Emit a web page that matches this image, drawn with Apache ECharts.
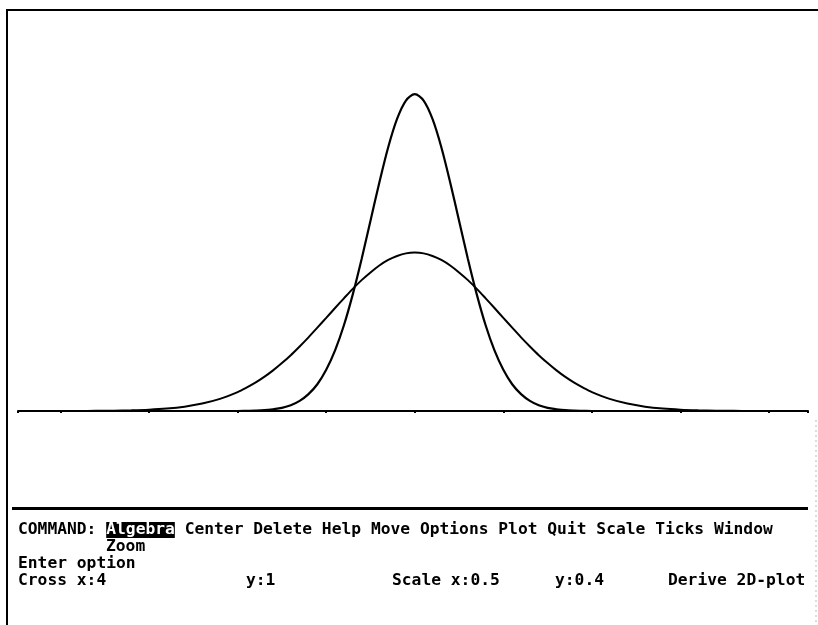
<!DOCTYPE html>
<html>
<head>
<meta charset="utf-8">
<script src="https://cdn.jsdelivr.net/npm/echarts@6/dist/echarts.min.js"></script>
<style>
html,body{margin:0;padding:0;background:#fff;}
#chart{width:818px;height:625px;}
</style>
</head>
<body>
<div id="chart"></div>
<script>
// x positions (plot units, one tick = 0.5)
var xValues = [-2.2,-2.1,-2.0,-1.9,-1.8,-1.7,-1.6,-1.5,-1.4,-1.3,-1.2,-1.1,
  -1.0,-0.95,-0.9,-0.85,-0.8,-0.75,-0.7,-0.65,-0.6,-0.55,-0.5,-0.45,-0.4,-0.35,-0.3,-0.25,-0.2,-0.15,-0.1,-0.05,0,
  0.05,0.1,0.15,0.2,0.25,0.3,0.35,0.4,0.45,0.5,0.55,0.6,0.65,0.7,0.75,0.8,0.85,0.9,0.95,1.0,
  1.1,1.2,1.3,1.4,1.5,1.6,1.7,1.8,1.9,2.0,2.1,2.2];
// narrow (tall) curve
var narrowCurve = [0,0,0,0,0,0,0,0,0,0,0,0,
  0,0.001,0.002,0.004,0.009,0.016,0.029,0.051,0.085,0.135,0.208,0.306,0.433,0.589,0.768,0.961,1.154,1.332,1.475,1.568,1.6,
  1.568,1.475,1.332,1.154,0.961,0.768,0.589,0.433,0.306,0.208,0.135,0.085,0.051,0.029,0.016,0.009,0.004,0.002,0.001,0,
  0,0,0,0,0,0,0,0,0,0,0,0];
// wide (low) curve
var wideCurve = [0,0,0,0,0.0008,0.0017,0.0035,0.0067,0.0124,0.022,0.0375,0.061,
  0.0955,0.118,0.143,0.172,0.205,0.242,0.282,0.326,0.372,0.421,0.470,0.520,0.569,0.617,0.661,0.700,0.735,0.763,0.783,0.796,0.8,
  0.796,0.783,0.763,0.735,0.700,0.661,0.617,0.569,0.520,0.470,0.421,0.372,0.326,0.282,0.242,0.205,0.172,0.143,0.118,0.0955,
  0.061,0.0375,0.022,0.0124,0.0067,0.0035,0.0017,0.0008,0,0,0,0];

var menuItems = ['Center','Delete','Help','Move','Options','Plot','Quit','Scale','Ticks','Window'];
var statusTexts = ['Cross x:4','y:1','Scale x:0.5','y:0.4','Derive 2D-plot'];

function pairs(ys){ return xValues.map(function(x,i){return [x, ys[i]];}); }

var FONT = 'bold 16.3px "DejaVu Sans Mono", monospace';
var chart = echarts.init(document.getElementById('chart'), null, {renderer:'canvas'});

var statusX = [18, 246, 392, 555, 668];
var statusGraphics = statusTexts.map(function(t,i){
  return {type:'text', left:statusX[i], top:573, style:{text:t, font:FONT, fill:'#000'}};
});

chart.setOption({
  animation:false,
  backgroundColor:'#fff',
  grid:{left:18, right:10, top:15, bottom:214, containLabel:false},
  xAxis:{type:'value', min:-2.24, max:2.22, splitNumber:9,
    axisLine:{show:true, onZero:false, lineStyle:{color:'#000', width:2}},
    axisTick:{show:true, length:2, lineStyle:{color:'#000', width:2}},
    axisLabel:{show:false}, splitLine:{show:false}},
  yAxis:{type:'value', min:0, max:2, show:false, splitLine:{show:false}},
  series:[
    {type:'line', data:pairs(narrowCurve), smooth:0.3, showSymbol:false, symbol:'none',
      lineStyle:{color:'#000', width:2.2}},
    {type:'line', data:pairs(wideCurve), smooth:0.3, showSymbol:false, symbol:'none',
      lineStyle:{color:'#000', width:2}}
  ],
  graphic:[
    {type:'polyline', shape:{points:[[7,625],[7,10],[818,10]]}, style:{stroke:'#000', lineWidth:2, fill:null}},
    {type:'line', shape:{x1:816,y1:420,x2:816,y2:625}, style:{stroke:'#bbb', lineWidth:1, lineDash:[2,3]}},
    {type:'rect', shape:{x:12, y:507, width:796, height:3}, style:{fill:'#000'}},
    {type:'text', left:18, top:522, style:{
      text:'{a|COMMAND: }{h|Algebra}{a| ' + menuItems.join(' ') + '}',
      rich:{
        a:{font:FONT, fill:'#000'},
        h:{font:FONT, fill:'#fff', backgroundColor:'#000'}
      }}},
    {type:'text', left:106, top:539, style:{text:'Zoom', font:FONT, fill:'#000'}},
    {type:'text', left:18, top:556, style:{text:'Enter option', font:FONT, fill:'#000'}}
  ].concat(statusGraphics)
});
</script>
</body>
</html>
